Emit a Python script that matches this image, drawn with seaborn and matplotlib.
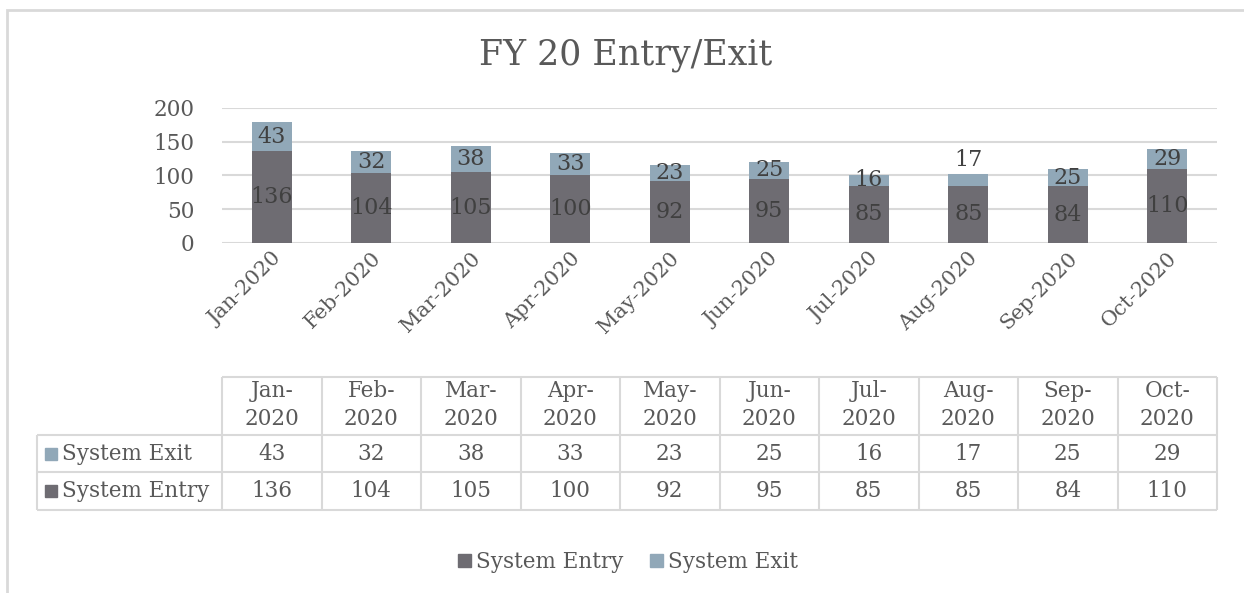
import matplotlib
matplotlib.use("Agg")
import matplotlib.pyplot as plt
from matplotlib.patches import Patch, Rectangle
import numpy as np
import pandas as pd
import seaborn as sns

months = ['Jan-2020', 'Feb-2020', 'Mar-2020', 'Apr-2020', 'May-2020',
          'Jun-2020', 'Jul-2020', 'Aug-2020', 'Sep-2020', 'Oct-2020']
system_entry = [136, 104, 105, 100, 92, 95, 85, 85, 84, 110]
system_exit = [43, 32, 38, 33, 23, 25, 16, 17, 25, 29]

ENTRY_COLOR = '#6e6c72'
EXIT_COLOR = '#91a8b8'
TEXT_COLOR = '#595959'
LINE_COLOR = '#d9d9d9'

sns.set_theme(style='white')
plt.rcParams['font.family'] = ['DejaVu Serif']
plt.rcParams['text.color'] = TEXT_COLOR

W, H = 1244, 593
fig = plt.figure(figsize=(W / 100, H / 100), dpi=100)


def px_axes(x0, y0, x1, y1):
    return fig.add_axes([x0 / W, 1 - y1 / H, (x1 - x0) / W, (y1 - y0) / H])


# outer chart border
fig.add_artist(Rectangle((7 / W, -0.1), 1.2, 1 - 10 / H + 0.1, transform=fig.transFigure,
                         fill=False, edgecolor=LINE_COLOR, linewidth=2))

df = pd.DataFrame({'month': months, 'entry': system_entry, 'exit': system_exit})
df['total'] = df['entry'] + df['exit']

ax = px_axes(222, 108, 1217, 243)
sns.barplot(data=df, x='month', y='total', color=EXIT_COLOR, width=0.4,
            saturation=1, linewidth=0, ax=ax, zorder=3)
sns.barplot(data=df, x='month', y='entry', color=ENTRY_COLOR, width=0.4,
            saturation=1, linewidth=0, ax=ax, zorder=3)
ax.set_xlim(-0.5, 9.5)
ax.set_ylim(0, 200)
ax.set_yticks([0, 50, 100, 150, 200])
ax.yaxis.grid(True, color=LINE_COLOR, linewidth=1.5)
ax.set_axisbelow(True)
for s in ax.spines.values():
    s.set_visible(False)
ax.set_xlabel('')
ax.set_ylabel('')
ax.tick_params(axis='y', length=0, pad=20, labelsize=15.5, labelcolor=TEXT_COLOR)
ax.tick_params(axis='x', length=0, pad=4, labelsize=15, labelcolor=TEXT_COLOR)
plt.setp(ax.get_xticklabels(), rotation=45, ha='right', rotation_mode='anchor')

# data labels
for i, (e, x) in enumerate(zip(system_entry, system_exit)):
    ax.text(i, e / 2, str(e), ha='center', va='center', fontsize=16, color='#404040', zorder=4)
    if i == 7:
        ax.text(i, e + x + 5, str(x), ha='center', va='bottom', fontsize=16, color='#404040', zorder=4)
    else:
        ax.text(i, e + x / 2, str(x), ha='center', va='center', fontsize=16, color='#404040', zorder=4)

fig.text(626 / W, 1 - 55 / H, 'FY 20 Entry/Exit', ha='center', va='center', fontsize=25,
         color=TEXT_COLOR)

# data table
tx0, tx1 = 37, 1217
tab = px_axes(tx0, 377, tx1, 510)
left = -0.5 - (222 - tx0) / 99.5
tab.set_xlim(left, 9.5)
tab.set_ylim(510, 377)
tab.axis('off')
lw = 1.5
tab.hlines(377, -0.5, 9.5, color=LINE_COLOR, lw=lw, clip_on=False)
for y in (435, 472, 510):
    tab.hlines(y, left, 9.5, color=LINE_COLOR, lw=lw, clip_on=False)
for i in range(11):
    tab.vlines(i - 0.5, 377, 510, color=LINE_COLOR, lw=lw, clip_on=False)
tab.vlines(left, 435, 510, color=LINE_COLOR, lw=lw, clip_on=False)
for i, m in enumerate(months):
    tab.text(i, 405, m.replace('-', '-\n'), ha='center', va='center', fontsize=15.5,
             linespacing=1.3, color=TEXT_COLOR)
    tab.text(i, 454, str(system_exit[i]), ha='center', va='center', fontsize=15.5, color=TEXT_COLOR)
    tab.text(i, 491, str(system_entry[i]), ha='center', va='center', fontsize=15.5, color=TEXT_COLOR)
for y, name, col in ((454, 'System Exit', EXIT_COLOR), (491, 'System Entry', ENTRY_COLOR)):
    tab.add_patch(Rectangle((left + 8 / 99.5, y + 6), 12 / 99.5, -12, color=col, clip_on=False))
    tab.text(left + 25 / 99.5, y, name, ha='left', va='center', fontsize=15.5, color=TEXT_COLOR)

handles = [Patch(color=ENTRY_COLOR, label='System Entry'),
           Patch(color=EXIT_COLOR, label='System Exit')]
fig.legend(handles=handles, loc='center', bbox_to_anchor=(628 / W, 1 - 562 / H), ncol=2,
           frameon=False, fontsize=15.5, handlelength=0.6, handleheight=0.6,
           handletextpad=0.25, columnspacing=1.2, labelcolor=TEXT_COLOR)

fig.savefig('out.png', dpi=100, facecolor='white')
